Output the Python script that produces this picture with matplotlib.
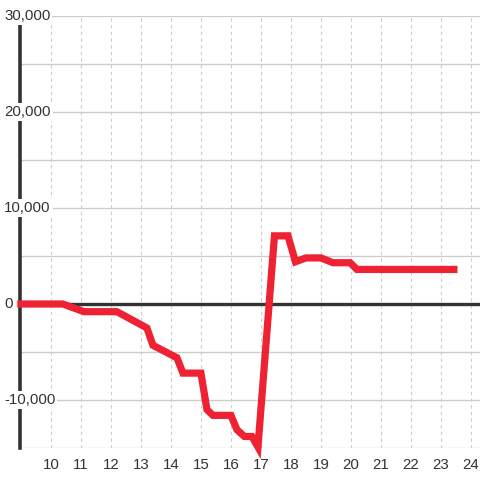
import numpy as np
import matplotlib
matplotlib.use("Agg")
import matplotlib.pyplot as plt
import matplotlib.transforms as mtransforms

# series
hours = [8.88, 10.4, 11.1, 12.2, 13.2, 13.4, 14.2, 14.4, 15.0, 15.2, 15.4, 16.0,
         16.2, 16.45, 16.7, 16.9, 17.45, 17.9, 18.15, 18.5, 19.0, 19.4, 19.97,
         20.2, 23.55]
values = [0, 0, -800, -800, -2500, -4300, -5600, -7200, -7200, -11000, -11600,
          -11600, -13100, -13800, -13800, -14900, 7100, 7100, 4400, 4800, 4800,
          4300, 4300, 3600, 3600]

x_ticks = list(range(10, 25))
y_grid = list(range(-15000, 30001, 5000))
y_labels = [-10000, 0, 10000, 20000, 30000]

plt.rcParams['font.family'] = ['Liberation Sans', 'DejaVu Sans']

fig = plt.figure(figsize=(4.8, 4.8), dpi=100)
ax = fig.add_axes([20 / 480, 32 / 480, 460 / 480, 432 / 480])

ax.set_xlim(8.97, 24.3)
ax.set_ylim(-15000, 30000)

# grid
for y in y_grid:
    ax.axhline(y, color='#cccccc', lw=1, zorder=1)
for x in x_ticks:
    ax.axvline(x, color='#cccccc', lw=0.8, ls=(0, (3, 3)), zorder=1)
ax.axhline(0, color='#333333', lw=2.4, zorder=2)

ax.plot(hours, values, color='#ee2233', lw=5.2, solid_joinstyle='miter',
        solid_capstyle='butt', zorder=4, clip_on=False)

for s in ['top', 'right', 'bottom']:
    ax.spines[s].set_visible(False)
ax.spines['left'].set_color('#333333')
ax.spines['left'].set_linewidth(2.6)
ax.spines['left'].set_bounds(-15000, 29200)

ax.set_yticks([])
ax.set_xticks(x_ticks)
ax.set_xticklabels([str(t) for t in x_ticks])
ax.tick_params(axis='x', length=0, pad=7, labelsize=10.8, labelcolor='#333333')

trans = mtransforms.blended_transform_factory(ax.transAxes, ax.transData)
off = mtransforms.ScaledTranslation(-16 / 100, 0, fig.dpi_scale_trans)
for v in y_labels:
    ax.text(0, v, f"{v:,}", transform=trans + off, ha='left', va='center',
            fontsize=10.8, color='#333333', zorder=3,
            bbox=dict(facecolor='white', edgecolor='none', pad=1.5))

fig.savefig('out.png', dpi=100)
